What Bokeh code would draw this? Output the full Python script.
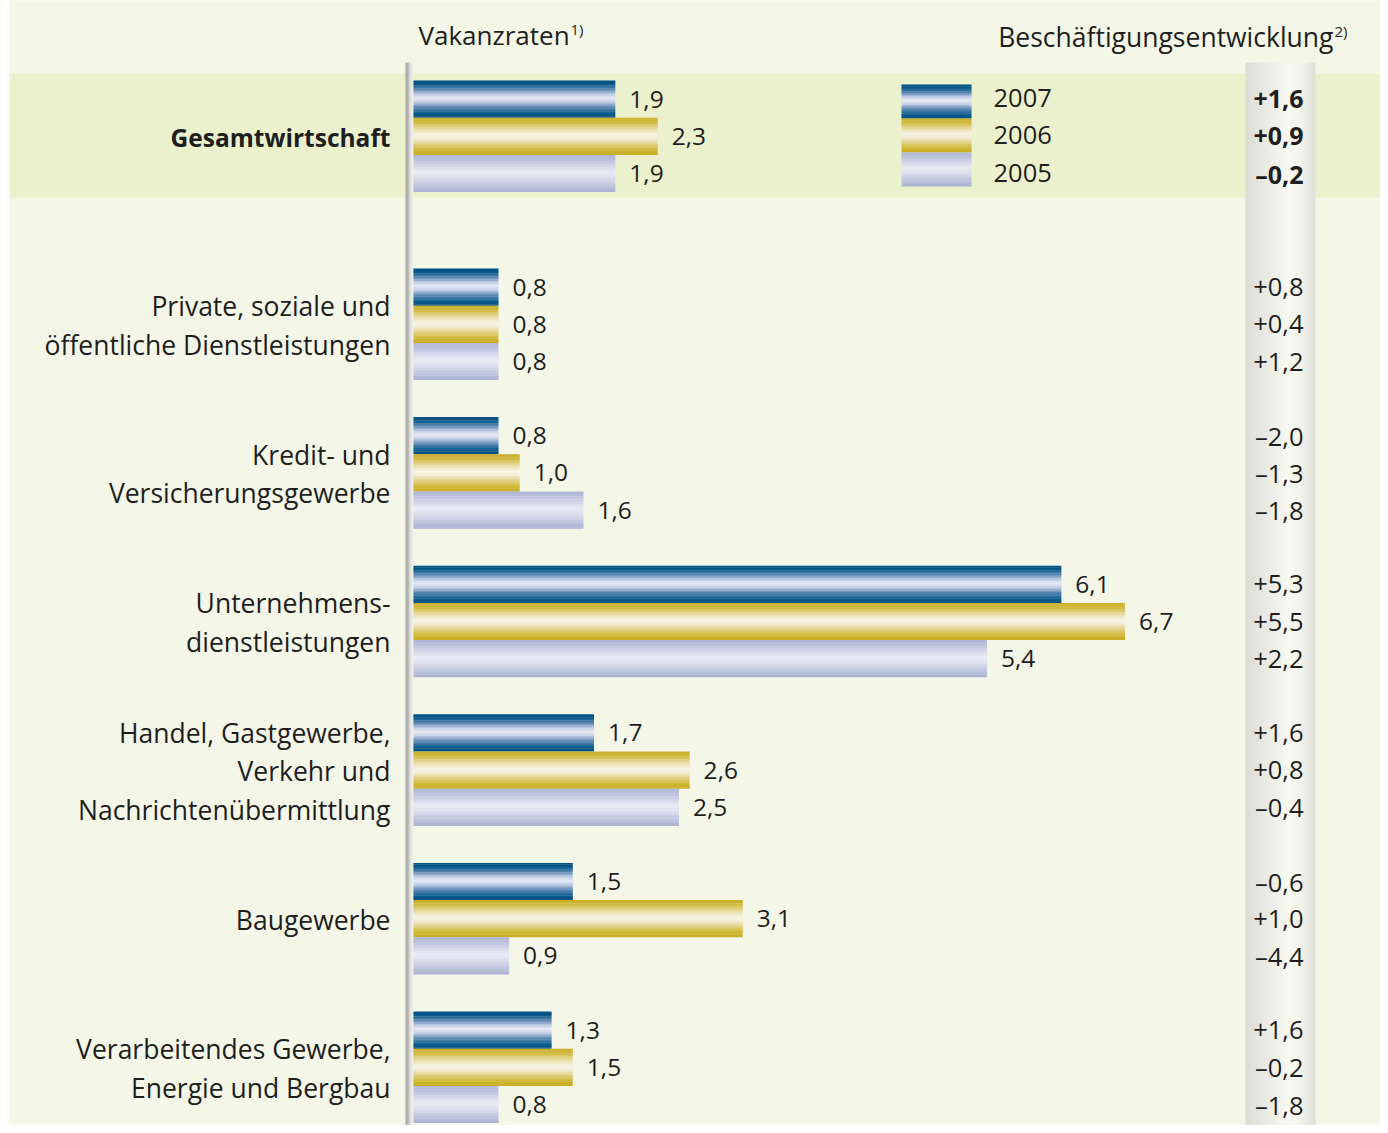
import numpy as np
from bokeh.plotting import figure
from bokeh.models import Range1d
from bokeh.embed import file_html
from bokeh.resources import INLINE
from bokeh.core.properties import value

# ---------------- data ----------------
categories = [
    "Gesamtwirtschaft",
    "Private, soziale und\nöffentliche Dienstleistungen",
    "Kredit- und\nVersicherungsgewerbe",
    "Unternehmens-\ndienstleistungen",
    "Handel, Gastgewerbe,\nVerkehr und\nNachrichtenübermittlung",
    "Baugewerbe",
    "Verarbeitendes Gewerbe,\nEnergie und Bergbau",
]
years = ["2007", "2006", "2005"]
vakanz_2007 = [1.9, 0.8, 0.8, 6.1, 1.7, 1.5, 1.3]
vakanz_2006 = [2.3, 0.8, 1.0, 6.7, 2.6, 3.1, 1.5]
vakanz_2005 = [1.9, 0.8, 1.6, 5.4, 2.5, 0.9, 0.8]
besch_2007 = [1.6, 0.8, -2.0, 5.3, 1.6, -0.6, 1.6]
besch_2006 = [0.9, 0.4, -1.3, 5.5, 0.8, 1.0, -0.2]
besch_2005 = [-0.2, 1.2, -1.8, 2.2, -0.4, -4.4, -1.8]
title_left = "Vakanzraten"
title_right = "Beschäftigungsentwicklung"

# ---------------- styles / layout ----------------
BG = "#f4f6e8"
BAND = "#ebf1cd"
TXT = "#1e1e1e"
FONT = value("Open Sans")

S = 106.2   # px per unit
X0 = 413    # pixel of value zero


def px2x(px):
    return (px - X0) / S


def hex2rgb(h):
    h = h.lstrip("#")
    return [int(h[i:i + 2], 16) for i in (0, 2, 4)]


def grad(stops, n):
    ts = [s[0] for s in stops]
    cols = np.array([hex2rgb(s[1]) for s in stops], dtype=float)
    t = (np.arange(n) + 0.5) / n
    out = []
    for tt in t:
        rgb = [int(round(np.interp(tt, ts, cols[:, k]))) for k in range(3)]
        out.append("#%02x%02x%02x" % tuple(rgb))
    return out


PROFILES = {
    "2007": [(0, "#004e7e"), (0.10, "#06598b"), (0.24, "#5a86b2"), (0.36, "#b9c6e0"),
             (0.47, "#e8ebf5"), (0.58, "#c3cde5"), (0.72, "#5d88b4"), (0.88, "#0a5d8f"),
             (1, "#004e7d")],
    "2006": [(0, "#c8ac20"), (0.14, "#d2bc45"), (0.30, "#e7dca2"), (0.46, "#f8f3e8"),
             (0.56, "#f3ecd6"), (0.72, "#dfd07f"), (0.86, "#d0b735"), (1, "#c7aa1d")],
    "2005": [(0, "#acb4d4"), (0.2, "#c3c9e1"), (0.45, "#e9ebf5"), (0.6, "#dde0ee"),
             (0.8, "#c1c7de"), (1, "#a8b0d0")],
}
GREY_COL = [(0, "#dcdcd6"), (0.3, "#e9eae3"), (0.62, "#f8f9f1"), (0.8, "#f2f3eb"), (1, "#dcddd6")]
AXIS_COL = [(0, "#9c9c9c"), (0.3, "#b4b4b2"), (0.5, "#dadad6"), (0.75, "#eeeee8"), (1, "#f0f0ea")]

W, H = 1380, 1125
p = figure(width=W, height=H, x_range=Range1d(px2x(0), px2x(W)),
           y_range=Range1d(H, 0), output_backend="svg", toolbar_location=None,
           x_axis_type=None, y_axis_type=None, min_border=0,
           background_fill_color=BG, border_fill_color=BG)
p.grid.visible = False
p.outline_line_color = None

# white margin strip on the left (as in the reference image)
p.quad(left=[px2x(0)], right=[px2x(9)], top=[0], bottom=[H], fill_color="white", line_color=None)

# highlighted band for Gesamtwirtschaft
p.quad(left=[px2x(9)], right=[px2x(W)], top=[73], bottom=[197],
       fill_color=BAND, line_color=None)

# grey column behind right values (horizontal gradient)
ncol = 35
gc = grad(GREY_COL, ncol)
gx0, gx1 = 1245, 1315
gw = (gx1 - gx0) / ncol
p.quad(left=[px2x(gx0 + i * gw) for i in range(ncol)],
       right=[px2x(gx0 + (i + 1) * gw + (0.4 if i < ncol - 1 else 0)) for i in range(ncol)],
       top=[62] * ncol, bottom=[H] * ncol, fill_color=gc, line_color=None)

# axis line (vertical grey bar)
nax = 8
ac = grad(AXIS_COL, nax)
ax0, ax1 = 405, 413.5
aw = (ax1 - ax0) / nax
p.quad(left=[px2x(ax0 + i * aw) for i in range(nax)],
       right=[px2x(ax0 + (i + 1) * aw + (0.3 if i < nax - 1 else 0)) for i in range(nax)],
       top=[62] * nax, bottom=[H] * nax, fill_color=ac, line_color=None)

# ---------------- bars ----------------
BAR_H = 37.2
GROUP_GAP = 148.6


def group_top(i):
    return 80 if i == 0 else 268 + (i - 1) * GROUP_GAP


series = {"2007": vakanz_2007, "2006": vakanz_2006, "2005": vakanz_2005}
besch = {"2007": besch_2007, "2006": besch_2006, "2005": besch_2005}

NSTRIP = 24
L, R, T, B, C = [], [], [], [], []
lab_x, lab_y, lab_t = [], [], []
rv_y, rv_t, rv_b_y, rv_b_t = [], [], [], []
for k, yr in enumerate(years):
    cols = grad(PROFILES[yr], NSTRIP)
    sh = BAR_H / NSTRIP
    for i, v in enumerate(series[yr]):
        top = group_top(i) + k * BAR_H
        for j in range(NSTRIP):
            L.append(0)
            R.append(v)
            T.append(top + j * sh)
            B.append(top + (j + 1) * sh + (0.35 if j < NSTRIP - 1 else 0))
            C.append(cols[j])
        yc = top + BAR_H / 2
        lab_x.append(v + 14 / S)
        lab_y.append(yc)
        lab_t.append(("%.1f" % v).replace(".", ","))
        bv = besch[yr][i]
        s = ("+" if bv > 0 else ("–" if bv < 0 else "")) + ("%.1f" % abs(bv)).replace(".", ",")
        if i == 0:
            rv_b_y.append(yc)
            rv_b_t.append(s)
        else:
            rv_y.append(yc)
            rv_t.append(s)

p.quad(left=L, right=R, top=T, bottom=B, fill_color=C, line_color=None)

p.text(x=lab_x, y=lab_y, text=lab_t, text_font=FONT, text_font_size="24.5px",
       text_color=TXT, text_baseline="middle", text_align="left")

p.text(x=[px2x(1303)] * len(rv_t), y=rv_y, text=rv_t, text_font=FONT, text_font_size="25.5px",
       text_color=TXT, text_baseline="middle", text_align="right")
p.text(x=[px2x(1303)] * len(rv_b_t), y=rv_b_y, text=rv_b_t, text_font=FONT,
       text_font_size="25px", text_font_style="bold",
       text_color=TXT, text_baseline="middle", text_align="right")

# ---------------- category labels ----------------
cx, cy, ct, bx, by, bt = [], [], [], [], [], []
for i, cat in enumerate(categories):
    lines = cat.split("\n")
    center = group_top(i) + 1.5 * BAR_H + 1
    for j, ln in enumerate(lines):
        y = center + (j - (len(lines) - 1) / 2) * 38.5
        if i == 0:
            bx.append(px2x(390)); by.append(y); bt.append(ln)
        else:
            cx.append(px2x(390)); cy.append(y); ct.append(ln)

p.text(x=cx, y=cy, text=ct, text_font=FONT, text_font_size="26.5px", text_color=TXT,
       text_baseline="middle", text_align="right")
p.text(x=bx, y=by, text=bt, text_font=FONT, text_font_size="24.5px", text_font_style="bold",
       text_color=TXT, text_baseline="middle", text_align="right")

# ---------------- legend ----------------
LEG_H = 34
nleg = 20
for k, yr in enumerate(years):
    cols = grad(PROFILES[yr], nleg)
    sh = LEG_H / nleg
    top = 84 + k * LEG_H
    p.quad(left=[px2x(901)] * nleg, right=[px2x(971)] * nleg,
           top=[top + j * sh for j in range(nleg)],
           bottom=[top + (j + 1) * sh + (0.35 if j < nleg - 1 else 0) for j in range(nleg)],
           fill_color=cols, line_color=None)
p.text(x=[px2x(993)] * 3, y=[group_top(0) + (k + 0.5) * BAR_H - 1 for k in range(3)],
       text=years, text_font=FONT, text_font_size="25.5px", text_color=TXT,
       text_baseline="middle", text_align="left")

# ---------------- headers ----------------
p.text(x=[px2x(418)], y=[34], text=[title_left], text_font=FONT, text_font_size="26px",
       text_color=TXT, text_baseline="middle", text_align="left")
p.text(x=[px2x(570)], y=[28], text=["1)"], text_font=FONT, text_font_size="15px",
       text_color=TXT, text_baseline="middle", text_align="left")
p.text(x=[px2x(1333)], y=[36], text=[title_right], text_font=FONT, text_font_size="26.5px",
       text_color=TXT, text_baseline="middle", text_align="right")
p.text(x=[px2x(1334)], y=[30], text=["2)"], text_font=FONT, text_font_size="15px",
       text_color=TXT, text_baseline="middle", text_align="left")

open("out.html", "w").write(file_html(p, INLINE))
